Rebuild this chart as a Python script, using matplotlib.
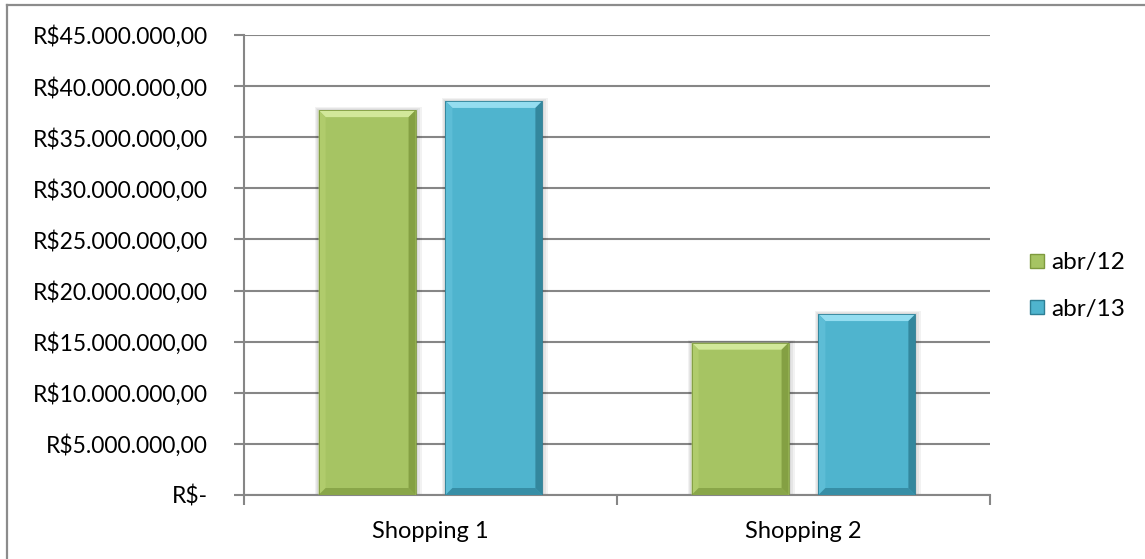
import numpy as np
import matplotlib
matplotlib.use('Agg')
import matplotlib.pyplot as plt
from matplotlib.patches import Polygon, Rectangle
from matplotlib.lines import Line2D
from matplotlib.ticker import FuncFormatter, FixedLocator

# dados
categorias = ['Shopping 1', 'Shopping 2']
series = ['abr/12', 'abr/13']
abr12 = [37650000, 14900000]
abr13 = [38550000, 17700000]

cores = {
    'abr/12': ('#A6C463', '#D2E89A', '#7E9A3E', '#B0CC6C'),
    'abr/13': ('#4FB4CE', '#94DDF0', '#2E7F95', '#5DBDD6'),
}

plt.rcParams['font.family'] = ['Lato', 'DejaVu Sans']

fig = plt.figure(figsize=(11.45, 5.59), dpi=100)
ax = fig.add_axes([244 / 1145, 1 - 495 / 559, 746 / 1145, 460 / 559])

# borda da figura (so topo e esquerda aparecem)
fig.add_artist(Line2D([7 / 1145, 7 / 1145], [0, 1 - 5 / 559], transform=fig.transFigure,
                      color='#8C8C8C', lw=1.6))
fig.add_artist(Line2D([7 / 1145, 1], [1 - 5 / 559, 1 - 5 / 559], transform=fig.transFigure,
                      color='#8C8C8C', lw=1.6))

x = np.arange(len(categorias))
largura = 0.26
desloc = 0.17

ax.set_xlim(-0.5, 1.5)
ax.set_ylim(0, 45000000)

# pixels -> unidades de dados
px_x = 2.0 / 746
px_y = 45000000 / 460
bev = 7


def barra_chanfrada(xc, h, cor):
    base, claro, escuro, medio = cor
    x0 = xc - largura / 2
    x1 = xc + largura / 2
    bx = bev * px_x
    by = bev * px_y
    # sombra suave
    for i, a in enumerate([0.05, 0.05, 0.05]):
        e = (i + 1) * 2
        ax.add_patch(Rectangle((x0 - e * px_x * 0.6, 0), (x1 - x0) + e * px_x * 1.6,
                               h + e * px_y * 0.5, facecolor='#000000', alpha=a,
                               edgecolor='none', zorder=2))
    ax.bar(xc, h, width=largura, color=base, edgecolor='none', zorder=3)
    # topo
    ax.add_patch(Polygon([(x0, h), (x1, h), (x1 - bx, h - by), (x0 + bx, h - by)],
                         closed=True, facecolor=claro, edgecolor='none', zorder=4))
    # esquerda
    ax.add_patch(Polygon([(x0, h), (x0 + bx, h - by), (x0 + bx, by), (x0, 0)],
                         closed=True, facecolor=medio, edgecolor='none', zorder=4))
    # direita
    ax.add_patch(Polygon([(x1, h), (x1 - bx, h - by), (x1 - bx, by), (x1, 0)],
                         closed=True, facecolor=escuro, edgecolor='none', alpha=0.85, zorder=4))
    # base
    ax.add_patch(Polygon([(x0, 0), (x1, 0), (x1 - bx, by), (x0 + bx, by)],
                         closed=True, facecolor=escuro, edgecolor='none', alpha=0.7, zorder=4))
    ax.add_patch(Rectangle((x0, 0), x1 - x0, h, facecolor='none', edgecolor=escuro,
                           lw=0.6, zorder=5))


for i in range(len(categorias)):
    barra_chanfrada(x[i] - desloc, abr12[i], cores['abr/12'])
    barra_chanfrada(x[i] + desloc, abr13[i], cores['abr/13'])


def moeda(v, pos):
    if v == 0:
        return 'R$-'
    s = f'{v:,.2f}'.replace(',', 'X').replace('.', ',').replace('X', '.')
    return 'R$' + s


ax.yaxis.set_major_locator(FixedLocator(np.arange(0, 45000001, 5000000)))
ax.yaxis.set_major_formatter(FuncFormatter(moeda))
ax.grid(axis='y', color='#868686', lw=1.5, zorder=1)
ax.set_axisbelow(True)

ax.set_xticks(x)
ax.set_xticklabels(categorias)
ax.set_xticks([-0.5, 0.5, 1.5], minor=True)
ax.tick_params(axis='x', which='major', length=0, pad=19, labelsize=17)
ax.tick_params(axis='x', which='minor', length=7, width=1.5, color='#868686', direction='out')
ax.tick_params(axis='y', length=7, width=1.5, color='#868686', direction='out', pad=19,
               labelsize=16.5)

for lado in ['top', 'right']:
    ax.spines[lado].set_visible(False)
for lado in ['left', 'bottom']:
    ax.spines[lado].set_color('#868686')
    ax.spines[lado].set_linewidth(1.5)

# legenda
alcas = [Line2D([], [], marker='s', ls='none', markersize=10,
                markerfacecolor=cores[s][0], markeredgecolor=cores[s][2], label=s)
         for s in series]
fig.legend(handles=alcas, loc='center left', bbox_to_anchor=(1004 / 1145, 1 - 286 / 559),
           frameon=False, fontsize=17.5, handletextpad=0.15, labelspacing=1.05,
           handlelength=0.9)

fig.savefig('out.png', dpi=100, facecolor='white')
